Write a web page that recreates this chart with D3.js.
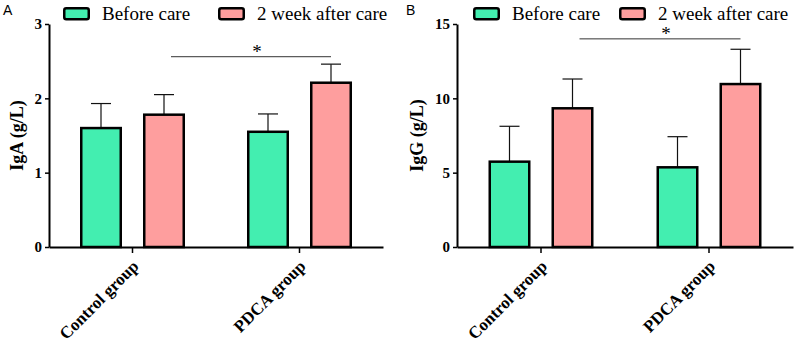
<!DOCTYPE html>
<html>
<head>
<meta charset="utf-8">
<script src="https://cdn.jsdelivr.net/npm/d3@7"></script>
<style>
  body { margin: 0; background: #fff; }
  svg { display: block; }
</style>
</head>
<body>
<svg id="chart" width="800" height="343"></svg>
<script>
const groups = ["Control group", "PDCA group"];
const series = ["Before care", "2 week after care"];
const colors = ["#43eeb0", "#fe9e9e"];

// values per group: [before, after]
const igaMean = [[1.60, 1.78], [1.55, 2.21]];
const igaSD = [[0.33, 0.27], [0.24, 0.25]];
const igaTicks = [0, 1, 2, 3];
const igaSig = 2.56;

const iggMean = [[5.74, 9.33], [5.36, 10.96]];
const iggSD = [[2.38, 1.97], [2.06, 2.34]];
const iggTicks = [0, 5, 10, 15];
const iggSig = 14.0;

const serif = "'Liberation Serif', 'Times New Roman', serif";
const svg = d3.select("#chart");

function drawPanel(opts) {
  const { label, title, mean, sd, ticks, sig, left, right, titleX, legendX, labelX } = opts;
  const top = 24, bottom = 247;
  const g = svg.append("g");

  const x0 = d3.scaleBand().domain(groups).range([left, right]).padding(0);
  const x1 = d3.scaleBand().domain(series)
    .range([x0.bandwidth() / 2 - 63, x0.bandwidth() / 2 + 63])
    .paddingInner(1 / 3).paddingOuter(1 / 6);
  const y = d3.scaleLinear().domain([0, d3.max(ticks)]).range([bottom, top]);

  const rows = [];
  groups.forEach((grp, i) => series.forEach((s, j) => {
    rows.push({ grp, s, j, mean: mean[i][j], sd: sd[i][j] });
  }));

  const bw = x1.bandwidth();
  const stroke = 2.5;

  // error bars (upper only)
  const err = g.append("g").selectAll("g").data(rows).join("g")
    .attr("transform", d => `translate(${x0(d.grp) + x1(d.s) + bw / 2},0)`);
  err.append("line")
    .attr("y1", d => y(d.mean)).attr("y2", d => y(d.mean + d.sd))
    .attr("stroke", "#111").attr("stroke-width", 1.2);
  err.append("line")
    .attr("x1", -10).attr("x2", 10)
    .attr("y1", d => y(d.mean + d.sd)).attr("y2", d => y(d.mean + d.sd))
    .attr("stroke", "#111").attr("stroke-width", 1.2);

  // bars
  g.append("g").selectAll("rect").data(rows).join("rect")
    .attr("x", d => x0(d.grp) + x1(d.s) + stroke / 2)
    .attr("width", bw - stroke)
    .attr("y", d => y(d.mean))
    .attr("height", d => y(0) - y(d.mean))
    .attr("fill", d => colors[d.j])
    .attr("stroke", "#000")
    .attr("stroke-width", stroke);

  // y axis
  g.append("g")
    .attr("transform", `translate(${left},0)`)
    .call(d3.axisLeft(y).tickValues(ticks).tickFormat(d3.format("d"))
      .tickSize(4).tickSizeOuter(0).tickPadding(3))
    .attr("font-family", serif).attr("font-size", 15).attr("font-weight", "bold")
    .call(a => a.select(".domain").attr("stroke", "#000").attr("stroke-width", 2))
    .call(a => a.selectAll(".tick line").attr("stroke", "#000").attr("stroke-width", 1.5))
    .call(a => a.selectAll(".tick text").attr("fill", "#000"));

  // x axis
  g.append("g")
    .attr("transform", `translate(0,${bottom})`)
    .call(d3.axisBottom(x0).tickSize(6).tickSizeOuter(0))
    .attr("font-family", serif).attr("font-size", 17).attr("font-weight", "bold")
    .call(a => a.select(".domain").attr("stroke", "#000").attr("stroke-width", 2))
    .call(a => a.selectAll(".tick line").attr("stroke", "#000").attr("stroke-width", 1.5))
    .call(a => a.selectAll(".tick text")
      .attr("fill", "#000")
      .attr("text-anchor", "end")
      .attr("x", 0).attr("y", 0).attr("dy", "0.35em")
      .attr("transform", "translate(3,16) rotate(-45)"));

  // y title
  g.append("text")
    .attr("font-family", serif).attr("font-size", 18).attr("font-weight", "bold")
    .attr("transform", `translate(${titleX},${(top + bottom) / 2}) rotate(-90)`)
    .attr("text-anchor", "middle").attr("dy", "0.35em")
    .text(title);

  // significance line
  const xa = x0(groups[0]) + x1(series[1]) + bw / 2 + 7;
  const xb = x0(groups[1]) + x1(series[1]) + bw / 2;
  g.append("line")
    .attr("x1", xa).attr("x2", xb).attr("y1", y(sig)).attr("y2", y(sig))
    .attr("stroke", "#333").attr("stroke-width", 1);
  g.append("text")
    .attr("font-family", serif).attr("font-size", 19)
    .attr("x", (xa + xb) / 2 + 6).attr("y", y(sig) + 1)
    .attr("text-anchor", "middle").text("*");

  // legend
  const lg = g.append("g").selectAll("g").data(series).join("g")
    .attr("transform", (d, i) => `translate(${legendX[i]},7)`);
  lg.append("rect")
    .attr("x", 1.25).attr("y", 1.25).attr("width", 24.5).attr("height", 11)
    .attr("rx", 2)
    .attr("fill", (d, i) => colors[i]).attr("stroke", "#000").attr("stroke-width", 2.5);
  lg.append("text")
    .attr("font-family", serif).attr("font-size", 19)
    .attr("x", 39).attr("y", 13).text(d => d);

  // panel label
  g.append("text")
    .attr("font-family", "'Liberation Sans', Arial, sans-serif").attr("font-size", 14)
    .attr("x", labelX).attr("y", 15).text(label);
}

drawPanel({
  label: "A", title: "IgA (g/L)", mean: igaMean, sd: igaSD, ticks: igaTicks, sig: igaSig,
  left: 49, right: 383, titleX: 17, legendX: [63, 218], labelX: 3
});
drawPanel({
  label: "B", title: "IgG (g/L)", mean: iggMean, sd: iggSD, ticks: iggTicks, sig: iggSig,
  left: 457, right: 793, titleX: 417, legendX: [473, 619], labelX: 406
});
</script>
</body>
</html>
